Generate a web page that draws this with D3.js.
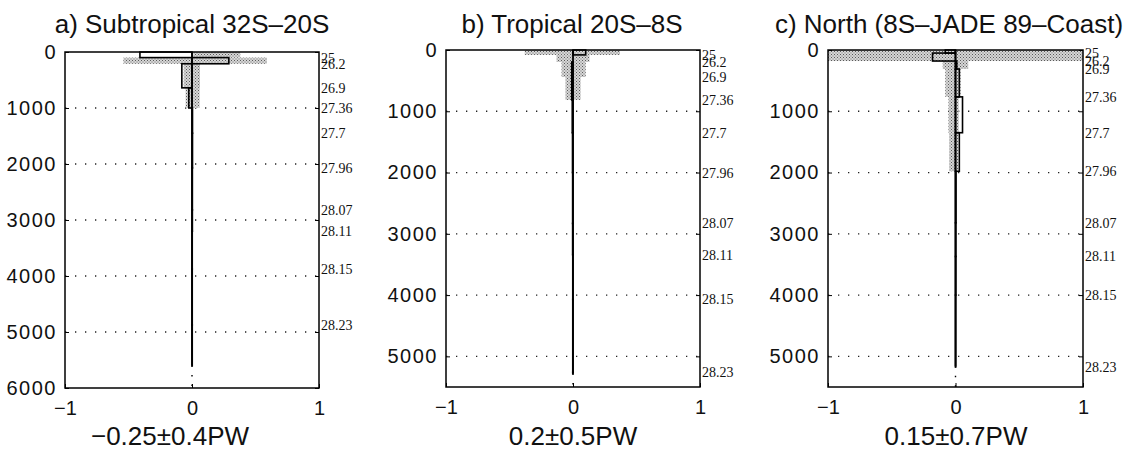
<!DOCTYPE html>
<html>
<head>
<meta charset="utf-8">
<script src="https://cdn.jsdelivr.net/npm/d3@7"></script>
<style>
  body { margin: 0; background: #fff; }
  svg text { font-family: "Liberation Sans", Arial, sans-serif; fill: #111; }
  .sigma text { font-family: "Liberation Serif", "Times New Roman", serif; }
</style>
</head>
<body>
<div id="chart"></div>
<script>
// panel texts
const panelTitles = ["a) Subtropical 32S\u201320S", "b) Tropical 20S\u20138S", "c) North (8S\u2013JADE 89\u2013Coast)"];
const panelNotes = ["\u22120.25\u00b10.4PW", "0.2\u00b10.5PW", "0.15\u00b10.7PW"];

// depth axis (m)
const depthMax = [6000, 5500, 5500];
const depthTicksA = [0, 1000, 2000, 3000, 4000, 5000, 6000];
const depthTicksBC = [0, 1000, 2000, 3000, 4000, 5000];
const transportTicks = [-1, 0, 1];

// density surfaces and their depths in each section
const sigmaLabels = ["25", "26.2", "26.9", "27.36", "27.7", "27.96", "28.07", "28.11", "28.15", "28.23"];
const sigmaDepthA = [100, 210, 640, 1000, 1450, 2070, 2820, 3200, 3875, 4875];
const sigmaDepthB = [80, 195, 440, 815, 1350, 2000, 2830, 3340, 4070, 5260];
const sigmaDepthC = [50, 180, 310, 765, 1350, 1980, 2820, 3370, 4000, 5170];
const bottomDepth = [5600, 5280, 5160];

// heat transport per layer (PW), surface -> sigma25 -> ... -> bottom
const heatA = [-0.41, 0.29, -0.08, -0.025, 0.004, 0.004, 0.003, 0.003, 0.002, 0.002, 0.002];
const heatB = [0.1, 0.0, -0.01, -0.01, -0.006, -0.004, -0.003, -0.003, -0.002, -0.002, -0.002];
const heatC = [-0.08, -0.18, 0.01, 0.03, 0.055, 0.03, 0.004, 0.003, 0.003, 0.002, 0.002];

// error range per layer (PW) [low, high]
const errLoA = [0.01, -0.54, -0.065, -0.05, 0, 0, 0, 0, 0, 0, 0];
const errHiA = [0.38, 0.59, 0.063, 0.06, 0, 0, 0, 0, 0, 0, 0];
const errLoB = [-0.38, -0.13, -0.09, -0.06, 0, 0, 0, 0, 0, 0, 0];
const errHiB = [0.37, 0.13, 0.10, 0.06, 0, 0, 0, 0, 0, 0, 0];
const errLoC = [-1, -1, -0.1, -0.08, -0.055, -0.05, 0, 0, 0, 0, 0];
const errHiC = [1, 1, 0.1, 0.04, 0.025, 0.02, 0, 0, 0, 0, 0];

const panels = [
    {title: panelTitles[0], note: panelNotes[0], max: depthMax[0], ticks: depthTicksA, sigma: sigmaDepthA, bottom: bottomDepth[0], heat: heatA, lo: errLoA, hi: errHiA},
    {title: panelTitles[1], note: panelNotes[1], max: depthMax[1], ticks: depthTicksBC, sigma: sigmaDepthB, bottom: bottomDepth[1], heat: heatB, lo: errLoB, hi: errHiB},
    {title: panelTitles[2], note: panelNotes[2], max: depthMax[2], ticks: depthTicksBC, sigma: sigmaDepthC, bottom: bottomDepth[2], heat: heatC, lo: errLoC, hi: errHiC}
];

// where each panel box sits on the page
const boxes = [
    {left: 65, right: 319, top: 52, bottom: 388, titleX: 192, noteX: 170},
    {left: 446, right: 700, top: 50, bottom: 387, titleX: 572, noteX: 573},
    {left: 828, right: 1083, top: 50, bottom: 387, titleX: 949, noteX: 956}
];

const svg = d3.select("#chart").append("svg")
    .attr("width", 1136)
    .attr("height", 450);

// stippled grey for the error band
let pat = svg.append("defs").append("pattern")
    .attr("id", "stipple")
    .attr("patternUnits", "userSpaceOnUse")
    .attr("width", 3).attr("height", 3);
pat.append("rect").attr("width", 3).attr("height", 3).attr("fill", "#d6d6d6");
pat.append("rect").attr("x", 0).attr("y", 0).attr("width", 1).attr("height", 1).attr("fill", "#5a5a5a");
pat.append("rect").attr("x", 1.5).attr("y", 1.5).attr("width", 1).attr("height", 1).attr("fill", "#6e6e6e");

panels.forEach(function (p, i) {
    let b = boxes[i];
    let x = d3.scaleLinear().domain([-1, 1]).range([b.left, b.right]);
    let y = d3.scaleLinear().domain([0, p.max]).range([b.top, b.bottom]);

    // layer edges: surface, density surfaces, bottom
    let edges = [0].concat(p.sigma, [p.bottom]);
    let layers = p.heat.map((v, k) => ({top: edges[k], bot: edges[k + 1], v: v, lo: p.lo[k], hi: p.hi[k]}));

    let g = svg.append("g");

    // dotted grid lines
    g.selectAll(".grid")
        .data(p.ticks.filter(t => t > 0 && t < p.max))
        .enter().append("line")
        .attr("x1", b.left).attr("x2", b.right)
        .attr("y1", d => y(d)).attr("y2", d => y(d))
        .attr("stroke", "#222")
        .attr("stroke-width", 1.3)
        .attr("stroke-dasharray", "1.3,8.7");

    // error bands
    g.selectAll(".err")
        .data(layers.filter(d => d.hi > d.lo))
        .enter().append("rect")
        .attr("x", d => x(d.lo))
        .attr("width", d => x(d.hi) - x(d.lo))
        .attr("y", d => y(d.top))
        .attr("height", d => y(d.bot) - y(d.top))
        .attr("fill", "url(#stipple)");

    // transport bars
    g.selectAll(".bar")
        .data(layers)
        .enter().append("rect")
        .attr("x", d => x(Math.min(0, d.v)))
        .attr("width", d => Math.abs(x(d.v) - x(0)))
        .attr("y", d => y(d.top))
        .attr("height", d => y(d.bot) - y(d.top))
        .attr("fill", "none")
        .attr("stroke", "#000")
        .attr("stroke-width", 1.6);

    // zero line down to the sea floor, dotted below
    g.append("line")
        .attr("x1", x(0)).attr("x2", x(0))
        .attr("y1", y(0)).attr("y2", y(p.bottom))
        .attr("stroke", "#000").attr("stroke-width", 1.8);
    g.append("line")
        .attr("x1", x(0)).attr("x2", x(0))
        .attr("y1", y(p.bottom)).attr("y2", y(p.max))
        .attr("stroke", "#000").attr("stroke-width", 1.4)
        .attr("stroke-dasharray", "1.5,8");

    // frame
    g.append("rect")
        .attr("x", b.left).attr("y", b.top)
        .attr("width", b.right - b.left).attr("height", b.bottom - b.top)
        .attr("fill", "none").attr("stroke", "#000").attr("stroke-width", 1.5);

    // depth axis
    let yAxis = d3.axisLeft(y).tickValues(p.ticks).tickSizeInner(-4).tickSizeOuter(0).tickPadding(8).tickFormat(d3.format("d"));
    let ya = g.append("g")
        .attr("transform", `translate(${b.left},0)`)
        .call(yAxis);
    ya.select(".domain").remove();
    ya.selectAll("text").style("font-size", "20px").style("letter-spacing", "1.5px");

    // inward ticks on the right side
    let yr = g.append("g")
        .attr("transform", `translate(${b.right},0)`)
        .call(d3.axisRight(y).tickValues(p.ticks).tickSizeInner(-4).tickSizeOuter(0).tickFormat(""));
    yr.select(".domain").remove();

    // density labels
    let sg = g.append("g")
        .attr("class", "sigma")
        .attr("transform", `translate(${b.right},0)`)
        .call(d3.axisRight(y).tickValues(p.sigma).tickSize(0).tickPadding(2).tickFormat((d, k) => sigmaLabels[k]));
    sg.select(".domain").remove();
    sg.selectAll("text").style("font-size", "14px");

    // transport axis
    let xa = g.append("g")
        .attr("transform", `translate(0,${b.bottom})`)
        .call(d3.axisBottom(x).tickValues(transportTicks).tickSizeInner(-4).tickSizeOuter(0).tickPadding(13).tickFormat(d3.format("d")));
    xa.select(".domain").remove();
    xa.selectAll("text").style("font-size", "20px");

    // title and total
    g.append("text")
        .attr("x", b.titleX).attr("y", 33)
        .attr("text-anchor", "middle")
        .style("font-size", "26px")
        .text(p.title);
    g.append("text")
        .attr("x", b.noteX).attr("y", 445)
        .attr("text-anchor", "middle")
        .style("font-size", "26px")
        .text(p.note);
});
</script>
</body>
</html>
